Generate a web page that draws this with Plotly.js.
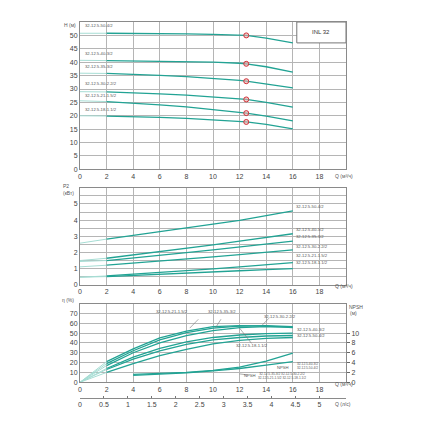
<!DOCTYPE html>
<html><head><meta charset="utf-8">
<script src="https://cdn.plot.ly/plotly-3.0.1.min.js"></script>
<style>html,body{margin:0;padding:0;background:#fff}#c{width:428px;height:428px}</style>
</head><body><div id="c"></div>
<script>
const models = ['32-12.5-50-4/2','32-12.5-40-3/2','32-12.5-35-3/2','32-12.5-30-2.2/2','32-12.5-21-1.5/2','32-12.5-18-1.1/2'];
// H-Q
const qH = [0,2,4,6,8,10,12,12.5,14,16];
const h50 = [50.8,50.8,50.8,50.7,50.6,50.4,50.1,50.0,49.0,47.2];
const h40 = [40.7,40.6,40.5,40.4,40.2,40.0,39.6,39.4,38.3,36.3];
const h35 = [35.9,35.8,35.5,35.1,34.6,34.0,33.2,32.9,31.9,30.4];
const h30 = [29.0,28.9,28.6,28.2,27.7,27.0,26.3,26.1,25.0,23.2];
const h21 = [25.6,25.3,24.8,24.1,23.3,22.4,21.3,21.0,19.9,18.1];
const h18 = [20.0,19.9,19.7,19.4,19.0,18.5,17.9,17.7,16.8,15.1];
const dutyQ = 12.5;
// P2-Q
const qP = [0,2,4,6,8,10,12,14,16];
const p50 = [2.58,2.83,3.05,3.28,3.50,3.75,3.98,4.27,4.57];
const p40 = [1.51,1.65,1.85,2.05,2.26,2.47,2.70,2.93,3.16];
const p35 = [1.45,1.51,1.66,1.83,2.00,2.17,2.35,2.53,2.71];
const p30 = [1.12,1.22,1.34,1.47,1.60,1.74,1.88,2.03,2.17];
const p21 = [0.48,0.56,0.66,0.77,0.88,1.00,1.12,1.25,1.38];
const p18 = [0.48,0.52,0.60,0.67,0.74,0.81,0.88,0.95,1.01];
// efficiency
const qE = [0,2,4,6,8,10,12,14,16];
const e50 = [0,13,23.5,32,38.5,43,45.5,47,47.5];
const e40 = [0,14,25.5,34.5,41,45.5,48,49.5,50];
const e35 = [0,19,32,43,50.5,55,57,57.5,56.5];
const e30 = [0,17,30,40,47.5,52.5,55.5,56.5,56];
const e21 = [0,21,34,45,52,56.5,57.5,57,55.5];
const e18 = [0,10,19,27,33.5,39,42.5,44.5,45.5];
// NPSH
const qN = [4,6,8,10,12,14,16];
const npshA = [1.6,1.75,2.0,2.4,3.1,4.3,5.9];
const npshB = [1.4,1.6,1.9,2.3,2.8,3.5,4.2];
// axes ticks
const qTicks = [0,2,4,6,8,10,12,14,16,18];
const lsTicks = [0,0.5,1,1.5,2,2.5,3,3.5,4,4.5,5];
const lsLabels = ['0','0.5','1','1.5','2','2.5','3','3.5','4','4.5','5'];

const DARK = '#22a394', LIGHT = '#a6ddd4';
const traces = [];
function curve(x, y, xa, ya, split){
  traces.push({x:x.slice(0,split+1), y:y.slice(0,split+1), xaxis:xa, yaxis:ya, mode:'lines', line:{color:LIGHT,width:1}, hoverinfo:'skip'});
  traces.push({x:x.slice(split), y:y.slice(split), xaxis:xa, yaxis:ya, mode:'lines', line:{color:DARK,width:1.3}, hoverinfo:'skip'});
}
const Hs = [h50,h40,h35,h30,h21,h18];
Hs.forEach(h=>curve(qH,h,'x','y',1));
traces.push({x:Hs.map(()=>dutyQ), y:Hs.map(h=>h[qH.indexOf(dutyQ)]), xaxis:'x', yaxis:'y', mode:'markers',
  marker:{symbol:'circle',size:5,color:'rgba(240,170,170,0.6)',line:{color:'#d0343a',width:1}}});
[p50,p40,p35,p30,p21,p18].forEach(p=>curve(qP,p,'x2','y2',1));
[e50,e40,e35,e30,e21,e18].forEach(e=>curve(qE,e,'x3','y3',1));
traces.push({x:qN,y:npshA,xaxis:'x3',yaxis:'y4',mode:'lines',line:{color:DARK,width:1.3}});
traces.push({x:qN,y:npshB,xaxis:'x3',yaxis:'y4',mode:'lines',line:{color:DARK,width:1.3}});
traces.push({x:[0,5.5556],y:[0,0],xaxis:'x4',yaxis:'y3',mode:'lines',line:{width:0},opacity:0,hoverinfo:'skip'});

const TF = {family:'Liberation Sans, Arial, sans-serif', size:7, color:'#444'};
const GRID = '#b5b5b5', LINE = '#8a8a8a';
function xax(anchor){return {domain:[0,1],range:[0,20],anchor:anchor,tickvals:qTicks,showgrid:true,gridcolor:GRID,gridwidth:1,
  showline:true,mirror:true,linecolor:LINE,linewidth:1,zeroline:false,ticks:'',tickfont:TF,fixedrange:true};}
function yax(dom,range,tv,anchor){return {domain:dom,range:range,anchor:anchor,tickvals:tv,showgrid:true,gridcolor:GRID,gridwidth:1,
  showline:true,mirror:true,linecolor:LINE,linewidth:1,zeroline:false,ticks:'',tickfont:TF,fixedrange:true};}

const L=80, R=82, T=22, B=30, W=428-L-R, HH=428-T-B;
const px = v => (v-L)/W, py = v => (428-B-v)/HH;
const SF = {family:'Liberation Sans, Arial, sans-serif', size:4.2, color:'#555'};
const AF = {family:'Liberation Sans, Arial, sans-serif', size:5, color:'#555'};
const ann = [];
function pa(x,y,t,f,xa,ya){ann.push({x:x,y:y,xref:'paper',yref:'paper',text:t,showarrow:false,font:f||AF,xanchor:xa||'left',yanchor:ya||'middle'});}
// axis captions
pa(px(62),py(24.5),'H (м)');
pa(px(333),py(176),'Q (м³/ч)');
pa(px(61),py(186),'P2');
pa(px(61),py(193.5),'(кВт)');
pa(px(333),py(285.5),'Q (м³/ч)');
pa(px(60),py(300),'η (%)');
pa(px(347),py(306.5),'NPSH');
pa(px(348),py(312.5),'(м)');
pa(px(333),py(384),'Q (м³/ч)');
pa(px(333),py(404),'Q (л/с)');
// H labels
const hLabY = [53.7,43.1,38.3,31.9,27.5,22.2];
models.forEach((m,i)=>ann.push({x:0.25,y:hLabY[i],xref:'x',yref:'y',text:m,showarrow:false,font:SF,xanchor:'left',yanchor:'middle'}));
ann.push({x:18.15,y:51.1,xref:'x',yref:'y',text:'INL 32',showarrow:false,font:{family:'Liberation Sans, Arial, sans-serif',size:6,color:'#333'}});
// P labels
const pLabY = [4.86,3.41,2.98,2.38,1.80,1.38];
models.forEach((m,i)=>ann.push({x:16.1,y:pLabY[i],xref:'x2',yref:'y2',text:m,showarrow:false,font:SF,xanchor:'left',yanchor:'middle'}));
// efficiency labels with leader lines
const shapes = [{type:'rect',xref:'x',yref:'y',x0:16.3,x1:20,y0:47.2,y1:55,line:{color:'#777',width:1},fillcolor:'rgba(255,255,255,1)'}];
function lead(x0,y0,x1,y1){shapes.push({type:'line',xref:'x3',yref:'y3',x0:x0,y0:y0,x1:x1,y1:y1,line:{color:'#777',width:0.6}});}
function et(t,x,y,xa,f){ann.push({x:x,y:y,xref:'x3',yref:'y3',text:t,showarrow:false,font:f||SF,xanchor:xa||'center',yanchor:'middle'});}
et(models[4],6.9,72); lead(8.25,55,8.9,64);
et(models[2],10.7,72); lead(10.2,55.5,10.6,64);
et(models[3],15.0,67); lead(13.7,58,14.2,65);
et(models[1],16.15,53.7,'left');
et(models[0],16.15,47.6,'left');
et(models[5],12.9,37); lead(12.0,55,12.9,39.5);
et('NPSH',15.3,15.3);
et('NPSH',12.8,6.7); lead(12.0,8.5,12.6,7.5);
et(models[1]+'<br>'+models[0],16.15,17,'left',{...SF,size:3.2});
et(models[2]+' '+models[3]+'<br>'+models[4]+' '+models[5],15.2,6,'center',{...SF,size:3.2});

const layout = {
  width:428,height:428,margin:{l:L,r:R,t:T,b:B},paper_bgcolor:'#fff',plot_bgcolor:'#fff',showlegend:false,
  xaxis:xax('y'), yaxis:yax([0.608,1],[0,55],[0,5,10,15,20,25,30,35,40,45,50],'x'),
  xaxis2:xax('y2'), yaxis2:Object.assign(yax([0.3005,0.5593],[0,6],[0,1,2,3,4,5],'x2'),{minor:{dtick:0.5,showgrid:true,gridcolor:GRID,gridwidth:1}}),
  xaxis3:xax('y3'), yaxis3:yax([0.0418,0.2513],[0,80],[0,10,20,30,40,50,60,70],'x3'),
  yaxis4:{overlaying:'y3',side:'right',anchor:'x3',range:[0,16],tickvals:[0,2,4,6,8,10],showgrid:false,zeroline:false,
    showline:false,ticks:'outside',ticklen:3,tickcolor:'#666',tickfont:TF,fixedrange:true},
  xaxis4:{overlaying:'x3',anchor:'free',position:0,side:'bottom',range:[0,20/3.6],tickvals:lsTicks,ticktext:lsLabels,
    showgrid:false,zeroline:false,showline:true,linecolor:LINE,linewidth:1,ticks:'inside',ticklen:2,tickcolor:'#777',tickfont:TF,fixedrange:true},
  shapes:shapes,
  annotations:ann
};
Plotly.newPlot('c',traces,layout,{displayModeBar:false,staticPlot:true});
</script></body></html>
